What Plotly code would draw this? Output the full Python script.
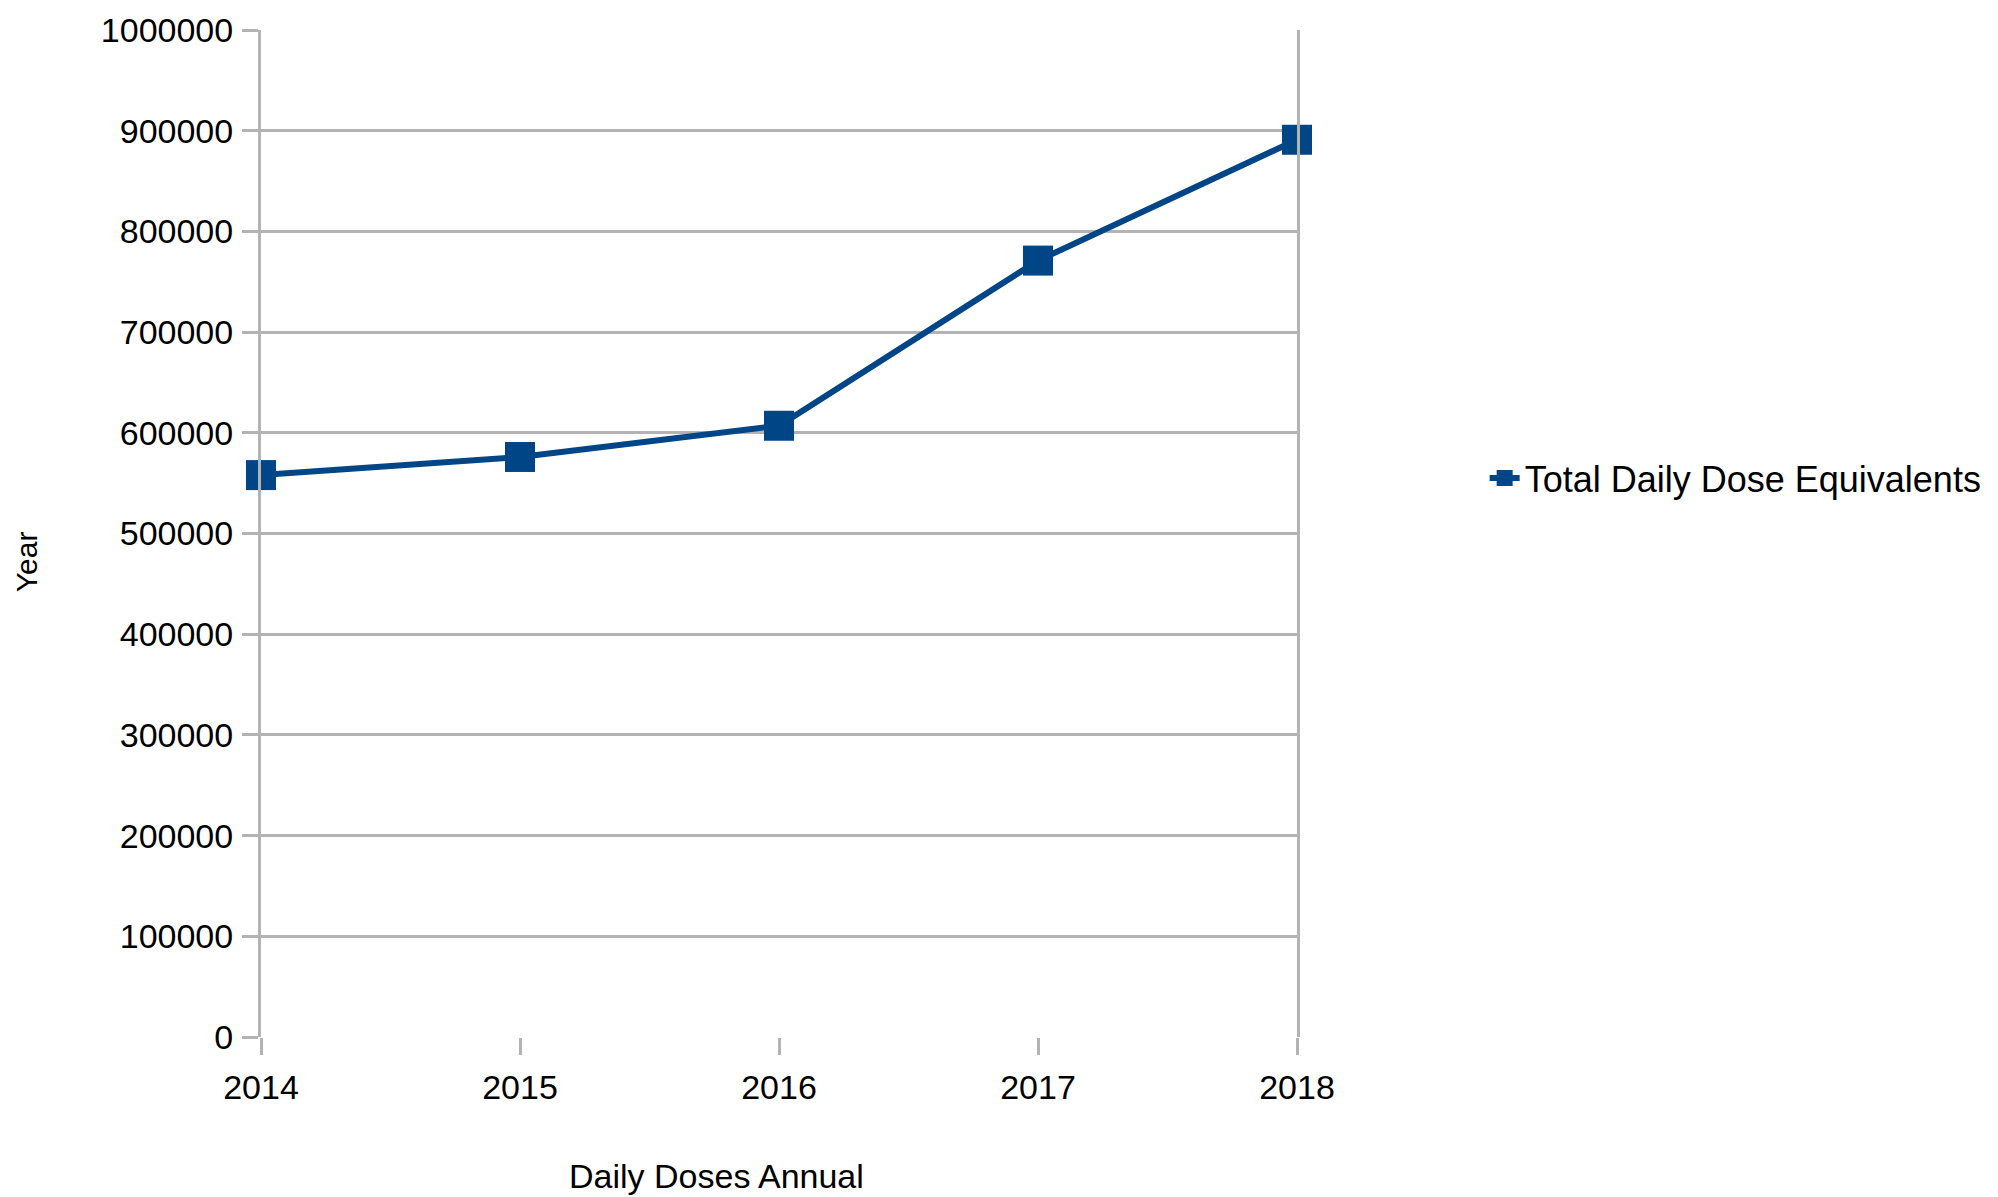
import plotly.graph_objects as go

years = [2014, 2015, 2016, 2017, 2018]
doses = [558000, 576000, 607000, 771000, 891000]
series_name = "Total Daily Dose Equivalents"
y_ticks = [0, 100000, 200000, 300000, 400000, 500000, 600000, 700000, 800000, 900000, 1000000]
x_title = "Daily Doses Annual"
y_title = "Year"

BLUE = "#004586"
GRID = "#b3b3b3"
FONT = "Liberation Sans, Arial, sans-serif"

fig = go.Figure()
fig.add_trace(go.Scatter(
    x=years, y=doses, name=series_name, mode="lines+markers",
    line=dict(color=BLUE, width=6),
    marker=dict(symbol="square", size=30, color=BLUE),
    cliponaxis=False,
))

fig.update_layout(
    width=1998, height=1197,
    margin=dict(l=261, r=700, t=30, b=160),
    paper_bgcolor="white", plot_bgcolor="white",
    font=dict(family=FONT, size=34, color="black"),
    showlegend=True,
    legend=dict(x=1.18, y=0.555, xanchor="left", yanchor="middle",
                font=dict(size=36), bgcolor="rgba(0,0,0,0)"),
    xaxis=dict(range=[years[0], years[-1]], tickvals=years, ticktext=[str(v) for v in years],
               showgrid=False, zeroline=False, showline=False,
               ticks="outside", ticklen=17, tickwidth=3, tickcolor=GRID,
               ticklabelstandoff=3),
    yaxis=dict(range=[0, 1000000], tickvals=y_ticks, ticktext=[str(v) for v in y_ticks],
               showgrid=True, gridcolor=GRID, gridwidth=3, zeroline=False,
               showline=True, linecolor=GRID, linewidth=3, mirror=True,
               ticks="outside", ticklen=16, tickwidth=3, tickcolor=GRID,
               ticklabelstandoff=2),
    annotations=[
        dict(text=x_title, xref="paper", yref="paper", x=0.4397, y=-0.138,
             xanchor="center", yanchor="middle", showarrow=False, font=dict(size=34)),
        dict(text=y_title, xref="paper", yref="paper", x=-0.2257, y=0.4717,
             xanchor="center", yanchor="middle", showarrow=False, textangle=-90,
             font=dict(size=30)),
    ],
)

fig.write_html("out.html")
